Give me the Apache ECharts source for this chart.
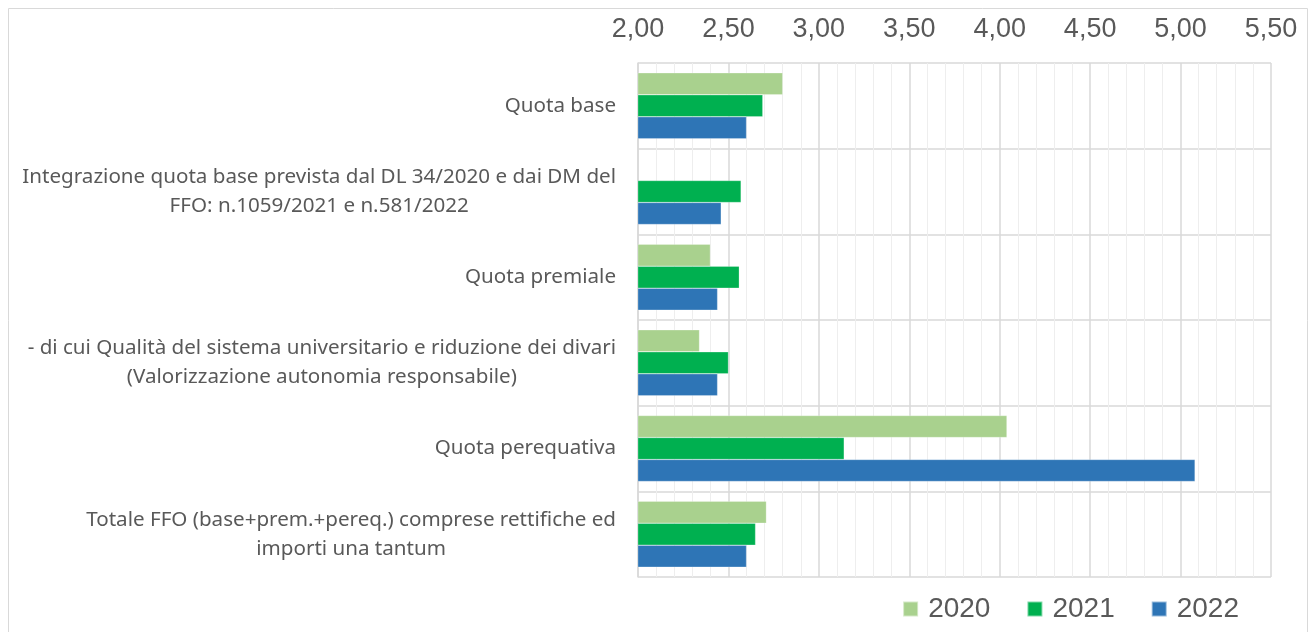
<!DOCTYPE html>
<html><head><meta charset="utf-8">
<script src="https://cdn.jsdelivr.net/npm/echarts@6/dist/echarts.min.js"></script>
<style>html,body{margin:0;padding:0;background:#fff}#c{width:1316px;height:632px}</style>
</head><body><div id="c"></div>
<script>
const categories = [
  "Quota base",
  "Integrazione quota base prevista dal DL 34/2020 e dai DM del\nFFO: n.1059/2021 e n.581/2022",
  "Quota premiale",
  "- di cui Qualità del sistema universitario e riduzione dei divari\n(Valorizzazione autonomia responsabile)",
  "Quota perequativa",
  "Totale FFO (base+prem.+pereq.) comprese rettifiche ed\nimporti una tantum"
];
const s2020 = [2.80, null, 2.40, 2.34, 4.04, 2.71];
const s2021 = [2.69, 2.57, 2.56, 2.50, 3.14, 2.65];
const s2022 = [2.60, 2.46, 2.44, 2.44, 5.08, 2.60];
const seriesNames = ["2020", "2021", "2022"];
const colors = ["#a9d18e", "#00b050", "#2e75b6"];

const chart = echarts.init(document.getElementById('c'));
const mk = (name, data, color) => ({
  name, type: 'bar', data, barGap: '0%', barCategoryGap: '23%',
  itemStyle: { color, borderColor: 'rgba(255,255,255,0.5)', borderWidth: 0.5 },
  animation: false
});
chart.setOption({
  animation: false,
  graphic: [{ type: 'rect', shape: { x: 8.5, y: 8.5, width: 1299, height: 640 },
    style: { fill: 'none', stroke: '#d9d9d9', lineWidth: 1 } }],
  grid: { left: 638, right: 45, top: 63, bottom: 55, containLabel: false },
  legend: {
    data: seriesNames, right: 72, bottom: 4, itemWidth: 15, itemHeight: 15, itemGap: 36,
    icon: 'rect',
    textStyle: { fontSize: 28, color: '#595959', fontFamily: 'Liberation Sans', padding: [0, 0, 0, 5] }
  },
  xAxis: {
    type: 'value', position: 'top', min: 2, max: 5.5, interval: 0.5,
    axisLine: { show: false }, axisTick: { show: false },
    axisLabel: { fontSize: 27, color: '#595959', fontFamily: 'Liberation Sans', margin: 20,
      formatter: v => v.toFixed(2).replace('.', ',') },
    splitLine: { show: true, lineStyle: { color: '#d9d9d9', width: 1.5 } },
    minorTick: { show: false, splitNumber: 5 },
    minorSplitLine: { show: true, lineStyle: { color: '#eeeeee', width: 1 } }
  },
  yAxis: {
    type: 'category', data: categories, inverse: true,
    axisLine: { show: true, lineStyle: { color: '#d9d9d9', width: 1.5 } },
    axisTick: { show: false },
    splitLine: { show: true, lineStyle: { color: '#d9d9d9', width: 1.5 } },
    axisLabel: { color: '#595959', margin: 22, align: 'right',
      formatter: v => v.split('\n').map(l => '{c|' + l + '}').join('\n'),
      rich: { c: { fontSize: 20.6, fontFamily: 'Noto Sans', color: '#595959', lineHeight: 29, align: 'center' } } }
  },
  series: [mk(seriesNames[0], s2020, colors[0]), mk(seriesNames[1], s2021, colors[1]), mk(seriesNames[2], s2022, colors[2])]
});
</script></body></html>
